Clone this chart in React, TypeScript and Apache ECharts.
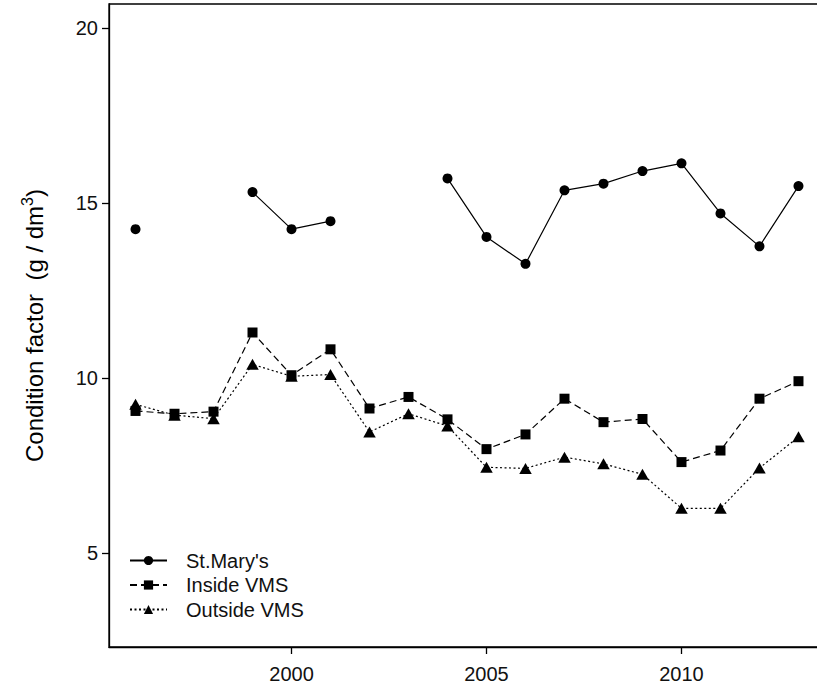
import React, { useEffect, useRef } from "react";
import * as echarts from "echarts";

const years = [1996, 1997, 1998, 1999, 2000, 2001, 2002, 2003, 2004, 2005, 2006, 2007, 2008, 2009, 2010, 2011, 2012, 2013];
const stMarys = [14.25, null, null, 15.31, 14.25, 14.48, null, null, 15.7, 14.03, 13.26, 15.36, 15.55, 15.91, 16.13, 14.7, 13.76, 15.48];
const insideVMS = [9.06, 8.98, 9.04, 11.3, 10.08, 10.82, 9.13, 9.46, 8.82, 7.97, 8.39, 9.41, 8.74, 8.83, 7.6, 7.93, 9.41, 9.91];
const outsideVMS = [9.25, 8.94, 8.84, 10.39, 10.05, 10.1, 8.46, 8.98, 8.63, 7.45, 7.42, 7.74, 7.55, 7.25, 6.28, 6.28, 7.43, 8.32];
const xTicks = [2000, 2005, 2010];
const yTicks = [5, 10, 15, 20];
const seriesNames = ["St.Mary's", "Inside VMS", "Outside VMS"];

const FONT = "'Liberation Sans', Arial, Helvetica, sans-serif";

export default function App() {
  const ref = useRef<HTMLDivElement>(null);
  useEffect(() => {
    if (!ref.current) return;
    const chart = echarts.init(ref.current, undefined, { renderer: "svg" });
    const toPairs = (vals: (number | null)[]) => years.map((y, i) => [y, vals[i] === null ? null : vals[i]]);
    const xMin = 1996 - 0.04 * 17;
    const xMax = 2013 + 0.04 * 17;
    const yMin = 3 - 0.04 * 17;
    const yMax = 20 + 0.04 * 17;
    chart.setOption({
      animation: false,
      backgroundColor: "#fff",
      textStyle: { fontFamily: FONT },
      grid: {
        left: 109,
        top: 4,
        right: 1,
        bottom: 42,
        show: true,
        borderColor: "#000",
        borderWidth: 1.3,
        backgroundColor: "transparent",
      },
      legend: {
        orient: "vertical",
        left: 124,
        top: 544.5,
        itemWidth: 37,
        itemHeight: 11.5,
        itemGap: 2.5,
        data: seriesNames,
        textStyle: { fontSize: 20, color: "#111", fontFamily: FONT, lineHeight: 22, padding: [0, 0, 0, 14] },
      },
      xAxis: {
        type: "value",
        min: xMin,
        max: xMax,
        splitLine: { show: false },
        axisLine: { show: true, lineStyle: { color: "#000", width: 1.3 } },
        axisTick: { show: true, length: 7, customValues: xTicks, lineStyle: { color: "#000", width: 1.3 } },
        axisLabel: {
          customValues: xTicks,
          fontSize: 20,
          color: "#111",
          margin: 17,
          fontFamily: FONT,
          formatter: (v: number) => String(v),
        },
      },
      yAxis: {
        type: "value",
        min: yMin,
        max: yMax,
        splitLine: { show: false },
        axisLine: { show: true, lineStyle: { color: "#000", width: 1.3 } },
        axisTick: { show: true, length: 7, customValues: yTicks, lineStyle: { color: "#000", width: 1.3 } },
        axisLabel: { customValues: yTicks, fontSize: 20, color: "#111", margin: 11, fontFamily: FONT },
        name: "{a|Condition factor  (g / dm}{s|3}{a|)}",
        nameLocation: "middle",
        nameGap: 60,
        nameTextStyle: {
          rich: {
            a: { fontSize: 24, color: "#000", fontFamily: FONT, lineHeight: 30 },
            s: { fontSize: 16, color: "#000", fontFamily: FONT, verticalAlign: "top", lineHeight: 16 },
          },
        },
      },
      series: [
        {
          name: seriesNames[0],
          type: "line",
          data: toPairs(stMarys),
          connectNulls: false,
          symbol: "circle",
          symbolSize: 10,
          itemStyle: { color: "#000" },
          lineStyle: { color: "#000", width: 1.2, type: "solid" },
        },
        {
          name: seriesNames[1],
          type: "line",
          data: toPairs(insideVMS),
          symbol: "rect",
          symbolSize: 10,
          itemStyle: { color: "#000" },
          lineStyle: { color: "#000", width: 1.2, type: [7, 4] },
        },
        {
          name: seriesNames[2],
          type: "line",
          data: toPairs(outsideVMS),
          symbol: "triangle",
          symbolSize: [12.5, 11],
          itemStyle: { color: "#000" },
          lineStyle: { color: "#000", width: 1.2, type: [2, 2.5] },
        },
      ],
    });
    return () => chart.dispose();
  }, []);
  return (
    <div style={{ position: "fixed", left: 0, top: 0, width: 817, height: 689, overflow: "hidden", background: "#fff" }}>
      <div ref={ref} style={{ width: 826, height: 689 }} />
    </div>
  );
}
